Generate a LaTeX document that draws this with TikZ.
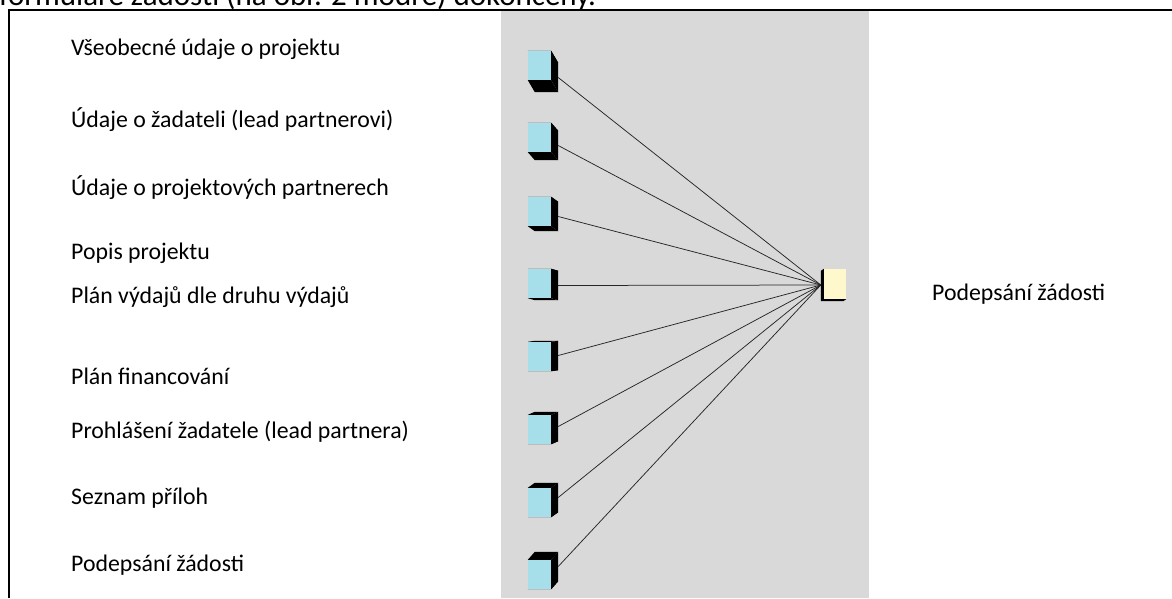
\documentclass[tikz,border=0pt]{standalone}
\usepackage{fontspec}
\setmainfont{Carlito}
\usetikzlibrary{calc}
\definecolor{panelgray}{RGB}{217,217,217}
\definecolor{cubeblue}{RGB}{166,222,234}
\definecolor{cubeyellow}{RGB}{255,248,204}
\begin{document}
\begin{tikzpicture}[x=1pt,y=-1pt,
  lbl/.style={anchor=base west, inner sep=0pt, font=\fontsize{23.8}{26}\selectfont},
  headtxt/.style={anchor=base west, inner sep=0pt, font=\fontsize{31}{34}\selectfont},
  cubefront/.style={minimum width=23pt, minimum height=29pt, inner sep=0pt, draw=none, fill=none},
  targetfront/.style={minimum width=22pt, minimum height=30pt, inner sep=0pt, draw=none, fill=none},
  link/.style={draw=black!85, line width=0.75pt},
  frame/.style={line width=2pt, draw=black}]
\useasboundingbox (0,0) rectangle (1172,598);
\begin{scope}
  \clip (0,0) rectangle (1172,598);
  \node[headtxt] (head) at (-1,5) {formuláře žádosti (na obr. 2 modře) dokončeny.};
\end{scope}
\fill[panelgray] (501,11) rectangle (869,598);
\draw[frame] (9,598) -- (9,10) -- (1172,10);
% target box
\node[targetfront] (t) at (835,284) {};
\fill[black] (t.north west) -- ++(-3,2) -- ($(t.south west)+(-3,2)$) -- ($(t.south east)+(-3,2)$) -- (t.south east) -- (t.south west) -- cycle;
\fill[cubeyellow] (t.south west) rectangle (t.north east);
\coordinate (tin) at ($(t.west)+(-3,1)$);
% source cubes
\foreach \i/\t/\d in {1/51/12, 2/123/8, 3/197/5, 4/269/2, 5/342/-1, 6/415/-3, 7/488/-5, 8/560/-8}{
  \node[cubefront] (b\i) at (539.5,\t+14.5) {};
  \fill[black] (b\i.north east) -- ($(b\i.north east)+(7,\d)$) -- ($(b\i.south east)+(7,\d)$) -- (b\i.south east) -- cycle;
  \fill[black] (b\i.north west) -- ($(b\i.north west)+(7,\d)$) -- ($(b\i.north east)+(7,\d)$) -- (b\i.north east) -- cycle;
  \fill[black] (b\i.south west) -- ($(b\i.south west)+(7,\d)$) -- ($(b\i.south east)+(7,\d)$) -- (b\i.south east) -- cycle;
  \fill[cubeblue] (b\i.south west) rectangle (b\i.north east);
  \coordinate (s\i) at ($(b\i.east)+(7,\d)$);
  \draw[link] (s\i) -- (tin);
}
% labels
\node[lbl] (l1) at (71,55) {Všeobecné údaje o projektu};
\node[lbl] (l2) at (71,127) {Údaje o žadateli (lead partnerovi)};
\node[lbl] (l3) at (71,195) {Údaje o projektových partnerech};
\node[lbl] (l4) at (71,259) {Popis projektu};
\node[lbl] (l5) at (71,303) {Plán výdajů dle druhu výdajů};
\node[lbl] (l6) at (71,384) {Plán financování};
\node[lbl] (l7) at (71,438) {Prohlášení žadatele (lead partnera)};
\node[lbl] (l8) at (71,504) {Seznam příloh};
\node[lbl] (l9) at (71,571) {Podepsání žádosti};
\node[lbl] (lr) at (932,300) {Podepsání žádosti};
\end{tikzpicture}
\end{document}
